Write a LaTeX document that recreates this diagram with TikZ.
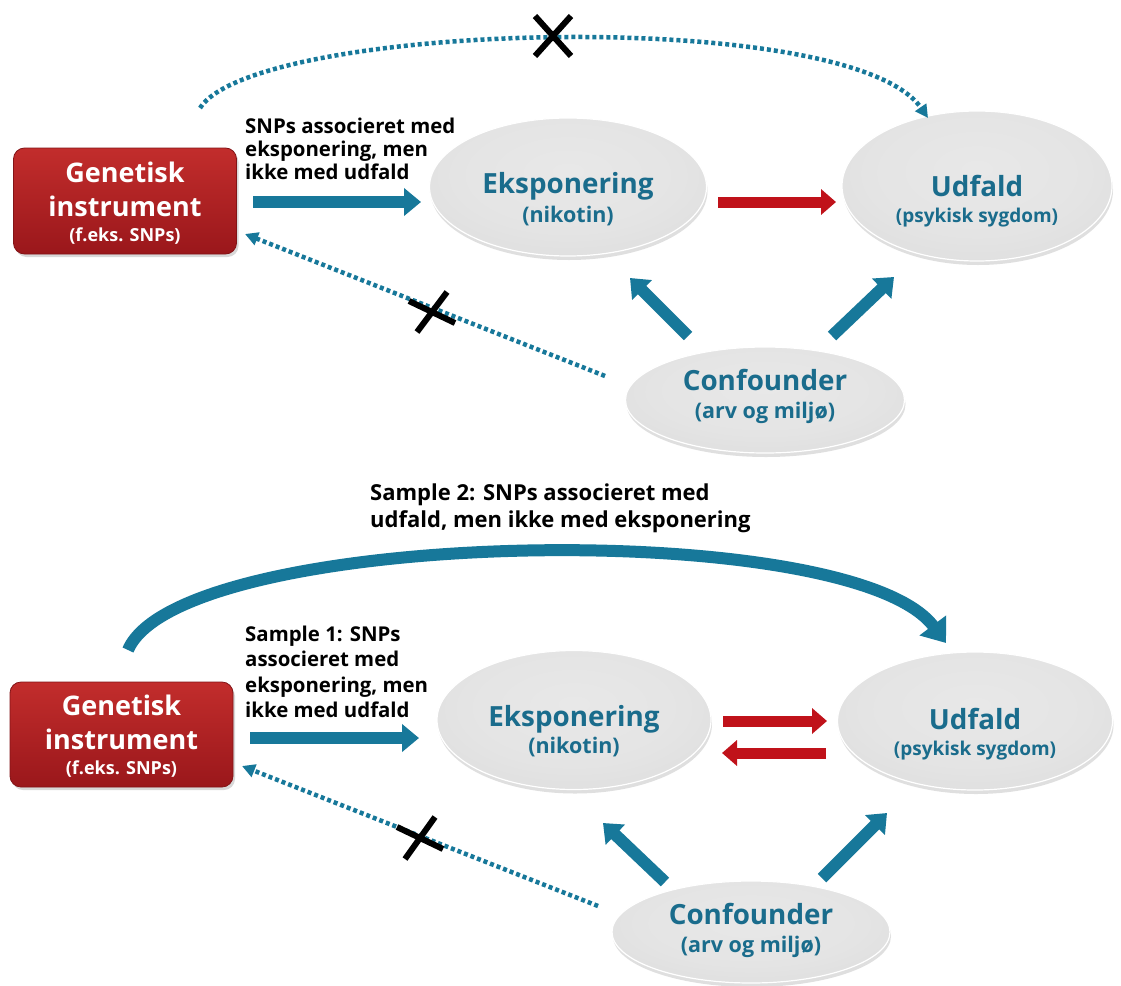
\documentclass[tikz,border=0pt]{standalone}
\usepackage{fontspec}
\setmainfont{Open Sans}
\usetikzlibrary{shapes.geometric,arrows.meta,shadows,calc}
\definecolor{arrblue}{HTML}{17789A}
\definecolor{tealtxt}{HTML}{1A6C8C}
\definecolor{arrred}{HTML}{C0121A}
\definecolor{redtop}{HTML}{C22D2C}
\definecolor{redbot}{HTML}{9A171B}
\pgfdeclareradialshading{blobshade}{\pgfpoint{0bp}{6bp}}{%
  color(0bp)=(gray!18); color(20bp)=(gray!21); color(36bp)=(gray!27);
  color(45bp)=(gray!35); color(50bp)=(gray!45); color(70bp)=(gray!45)}
\begin{document}
\begin{tikzpicture}[x=1pt,y=-1pt,
  blob/.style={ellipse, inner sep=0pt, draw=white, line width=1.2pt,
    shading=blobshade,
    drop shadow={shadow xshift=1pt, shadow yshift=-4pt, opacity=0.25}},
  genbox/.style={rectangle, rounded corners=11pt, inner sep=0pt,
    top color=redtop, bottom color=redbot, draw=redbot!85!black, line width=0.8pt,
    drop shadow={shadow xshift=2pt, shadow yshift=-3pt, opacity=0.3}},
  title/.style={font=\bfseries\fontsize{27.8}{32}\selectfont, text=tealtxt, anchor=base},
  subtitle/.style={font=\bfseries\fontsize{19}{22}\selectfont, text=tealtxt, anchor=base},
  bigsub/.style={font=\bfseries\fontsize{21.5}{24}\selectfont, text=tealtxt, anchor=base},
  gtitle/.style={font=\bfseries\fontsize{27}{30}\selectfont, text=white, anchor=base},
  gsub/.style={font=\bfseries\fontsize{18}{22}\selectfont, text=white, anchor=base},
  lbl/.style={font=\bfseries\fontsize{20.4}{24}\selectfont, text=black, anchor=base west, inner sep=0pt},
  biglbl/.style={font=\bfseries\fontsize{22}{26}\selectfont, text=black, anchor=base west, inner sep=0pt},
  bigarrow/.style={draw=arrblue, line width=12pt, -{Triangle[length=17pt,width=27pt]}},
  redarrow/.style={draw=arrred, line width=11pt, -{Triangle[length=15pt,width=25pt]}},
  dotarrow/.style={draw=arrblue, line width=4.5pt, dash pattern=on 4pt off 3pt,
    -{Triangle[length=13pt,width=13pt]}},
  xmark/.style={draw=black, line width=6pt}
]
\fill[white] (0,0) rectangle (1121,985);
\useasboundingbox (0,0) rectangle (1121,985);

% ---------------- upper diagram ----------------
\node[genbox, minimum width=223pt, minimum height=106pt] (gen1) at (125,201) {};
\node[gtitle] (gen1a) at (125,182) {Genetisk};
\node[gtitle] (gen1b) at (125,216) {instrument};
\node[gsub]   (gen1c) at (125,241) {(f.eks. SNPs)};

\node[blob, minimum width=277pt, minimum height=138pt] (eks1) at (568,187) {};
\node[title]  (eks1a) at (568,193) {Eksponering};
\node[bigsub] (eks1b) at (568,222) {(nikotin)};

\node[blob, minimum width=270pt, minimum height=150pt] (udf1) at (977,186) {};
\node[title]    (udf1a) at (977,196) {Udfald};
\node[subtitle] (udf1b) at (977,222) {(psykisk sygdom)};

\node[blob, minimum width=279pt, minimum height=106pt] (conf1) at (765,400) {};
\node[title]  (conf1a) at (765,390) {Confounder};
\node[bigsub] (conf1b) at (765,418) {(arv og miljø)};

\node[lbl] (lab1a) at (245,133) {SNPs associeret med};
\node[lbl] (lab1b) at (245,156) {eksponering, men};
\node[lbl] (lab1c) at (245,179) {ikke med udfald};

% connector ends
\coordinate (g1out) at (253,202);
\coordinate (e1in)  at (421,202);
\coordinate (e1out) at (718,202);
\coordinate (u1in)  at (836,202);
\coordinate (c1l)   at (688,336);
\coordinate (e1low) at (630,278);
\coordinate (c1r)   at (832,336);
\coordinate (u1low) at (894,277);
\coordinate (c1w)   at (605,376);
\coordinate (g1se)  at (245,234);
\coordinate (g1top) at (200,108);
\coordinate (u1top) at (928,118);

\draw[bigarrow] (g1out) -- (e1in);
\draw[redarrow] (e1out) -- (u1in);
\draw[bigarrow] (c1l) -- (e1low);
\draw[bigarrow] (c1r) -- (u1low);
\draw[dotarrow] (c1w) -- (g1se);
\draw[dotarrow] (g1top) .. controls (255,22) and (850,5) .. (u1top);

\coordinate (x1) at (553,36);
\draw[xmark] ($(x1)+(-18,-20)$) -- ($(x1)+(18,20)$);
\draw[xmark] ($(x1)+(18,-20)$) -- ($(x1)+(-18,20)$);
\coordinate (x2) at (432,312);
\draw[xmark] ($(x2)+(-23,-11)$) -- ($(x2)+(23,11)$);
\draw[xmark] ($(x2)+(15,-20)$) -- ($(x2)+(-15,20)$);

% ---------------- lower diagram ----------------
\node[biglbl] (lab2a) at (370,500) {Sample 2: SNPs associeret med};
\node[biglbl] (lab2b) at (370,527) {udfald, men ikke med eksponering};

\node[genbox, minimum width=223pt, minimum height=105pt] (gen2) at (121.5,734.5) {};
\node[gtitle] (gen2a) at (121.5,715) {Genetisk};
\node[gtitle] (gen2b) at (121.5,749) {instrument};
\node[gsub]   (gen2c) at (121.5,774) {(f.eks. SNPs)};

\node[blob, minimum width=274pt, minimum height=139pt] (eks2) at (574,720) {};
\node[title]  (eks2a) at (574,726) {Eksponering};
\node[bigsub] (eks2b) at (574,753) {(nikotin)};

\node[blob, minimum width=275pt, minimum height=138pt] (udf2) at (975,721) {};
\node[title]    (udf2a) at (975,729) {Udfald};
\node[subtitle] (udf2b) at (975,755) {(psykisk sygdom)};

\node[blob, minimum width=278pt, minimum height=102pt] (conf2) at (751,932) {};
\node[title]  (conf2a) at (751,924) {Confounder};
\node[bigsub] (conf2b) at (751,952) {(arv og miljø)};

\node[lbl] (lab3a) at (245,641) {Sample 1: SNPs};
\node[lbl] (lab3b) at (245,666) {associeret med};
\node[lbl] (lab3c) at (245,692) {eksponering, men};
\node[lbl] (lab3d) at (245,717) {ikke med udfald};

\coordinate (g2out) at (250,738);
\coordinate (e2in)  at (419,738);
\coordinate (e2out) at (723,721);
\coordinate (u2in)  at (827,721);
\coordinate (u2out) at (826,753);
\coordinate (e2ret) at (722,753);
\coordinate (c2l)   at (665,882);
\coordinate (e2low) at (603,823);
\coordinate (c2r)   at (822,878);
\coordinate (u2low) at (887,813);
\coordinate (c2w)   at (598,906);
\coordinate (g2se)  at (242,766);
\coordinate (g2top) at (128,650);
\coordinate (u2top) at (946,643);

\draw[bigarrow] (g2out) -- (e2in);
\draw[redarrow] (e2out) -- (u2in);
\draw[redarrow] (u2out) -- (e2ret);
\draw[bigarrow] (c2l) -- (e2low);
\draw[bigarrow] (c2r) -- (u2low);
\draw[dotarrow] (c2w) -- (g2se);
\draw[draw=arrblue, line width=12pt, -{Triangle[length=22pt,width=32pt]}]
  (g2top) .. controls (180,528) and (850,515) .. (u2top);

\coordinate (x3) at (420,838);
\draw[xmark] ($(x3)+(-23,-11)$) -- ($(x3)+(23,11)$);
\draw[xmark] ($(x3)+(15,-21)$) -- ($(x3)+(-15,21)$);
\end{tikzpicture}
\end{document}
